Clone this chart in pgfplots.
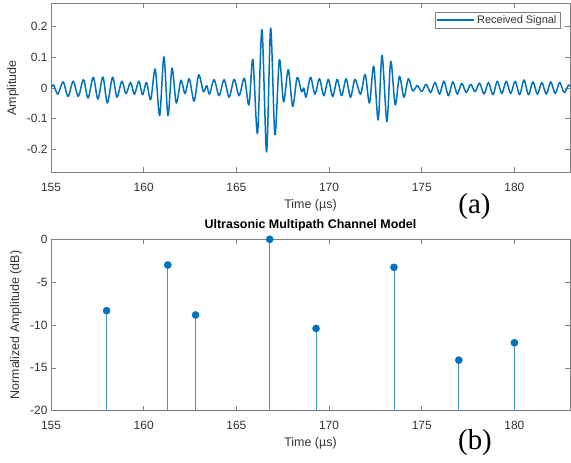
\documentclass[border=0pt]{standalone}
\usepackage{fontspec}
\setmainfont{Liberation Sans}
\newfontfamily\serifface{Liberation Serif}
\usepackage{pgfplots}
\pgfplotsset{compat=1.18}

\definecolor{mblue}{rgb}{0,0.447,0.741}
\definecolor{axgray}{gray}{0.5}
\definecolor{txtgray}{gray}{0.2}

\pgfplotsset{
  mstyle/.style={
    scale only axis, width=519bp,
    xmin=155, xmax=183, xtick={155,160,...,180},
    tick align=inside, major tick length=5bp,
    axis line style={axgray, line width=0.5pt},
    tick style={axgray, line width=0.5pt},
    /pgf/number format/assume math mode=true,
    scaled ticks=false,
    every tick label/.append style={font=\fontsize{12}{14}\selectfont, text=txtgray},
    xticklabel style={anchor=center, yshift=-14.5bp},
    label style={font=\fontsize{12.5}{15}\selectfont, text=txtgray},
    xlabel style={at={(axis description cs:0.5,0)}, anchor=center, yshift=-32.5bp},
    xlabel={Time (µs)},
  }
}

\begin{document}
\begin{tikzpicture}[x=1bp, y=1bp]
\useasboundingbox (0,0) rectangle (571,463);

% (a) received signal
\begin{axis}[mstyle,
  at={(51bp,290.5bp)}, anchor=south west, height=169bp,
  ymin=-0.275, ymax=0.275, ytick={-0.2,-0.1,0,0.1,0.2},
  ylabel={Amplitude},
  ylabel style={at={(axis description cs:-0.0732,0.5)}, anchor=center},
  legend style={at={(rel axis cs:0.981,0.951)}, anchor=north east,
    draw=axgray, line width=0.5pt, inner sep=1.5bp,
    font=\fontsize{11}{13}\selectfont, text=txtgray},
  legend image code/.code={\draw[#1] (0bp,0bp) -- (37bp,0bp);},
]
\addplot[mblue, line width=1.5pt, smooth, line join=round] coordinates {
(155.00,0.000) (155.14,0.010) (155.37,-0.020) (155.65,0.020) (155.92,-0.027)
(156.20,0.022) (156.47,-0.027) (156.75,0.027) (157.00,-0.033) (157.28,0.035)
(157.53,-0.036) (157.80,0.036) (158.04,-0.049) (158.32,0.035) (158.56,-0.030)
(158.82,0.022) (159.05,-0.018) (159.29,0.018) (159.50,-0.020) (159.74,0.022)
(159.94,-0.022) (160.15,0.018) (160.38,-0.038) (160.62,0.062) (160.86,-0.090)
(161.09,0.101) (161.31,-0.090) (161.53,0.065) (161.76,-0.049) (162.01,0.025)
(162.23,-0.018) (162.46,0.030) (162.72,-0.043) (162.97,0.043) (163.22,-0.012)
(163.40,0.008) (163.55,-0.020) (163.80,0.027) (164.07,-0.025) (164.34,0.027)
(164.61,-0.030) (164.88,0.028) (165.15,-0.025) (165.43,0.032) (165.68,-0.055)
(165.89,0.093) (166.14,-0.148) (166.38,0.190) (166.63,-0.208) (166.85,0.195)
(167.08,-0.152) (167.32,0.092) (167.55,-0.045) (167.80,0.060) (168.04,-0.060)
(168.28,0.034) (168.52,-0.012) (168.64,0.000) (168.76,-0.030) (169.00,0.035)
(169.24,-0.020) (169.48,0.030) (169.72,-0.025) (169.96,0.028) (170.20,-0.028)
(170.44,0.028) (170.68,-0.025) (170.92,0.030) (171.16,-0.030) (171.40,0.028)
(171.70,-0.020) (171.95,0.044) (172.18,-0.049) (172.41,0.071) (172.65,-0.104)
(172.86,0.106) (173.12,-0.109) (173.33,0.087) (173.57,-0.055) (173.80,0.038)
(174.04,-0.030) (174.28,0.030) (174.52,-0.010) (174.76,0.008) (175.00,-0.012)
(175.24,0.012) (175.48,-0.015) (175.72,0.018) (175.96,-0.020) (176.20,0.022)
(176.44,-0.025) (176.68,0.020) (176.92,-0.020) (177.16,0.015) (177.40,-0.015)
(177.64,0.012) (177.88,-0.012) (178.12,0.016) (178.36,-0.020) (178.60,0.018)
(178.84,-0.022) (179.08,0.022) (179.32,-0.018) (179.56,0.022) (179.80,-0.018)
(180.04,0.022) (180.28,-0.022) (180.52,0.026) (180.76,-0.022) (181.00,0.020)
(181.24,-0.020) (181.48,0.018) (181.72,-0.020) (181.96,0.020) (182.20,-0.018)
(182.44,0.018) (182.68,-0.015) (182.92,0.010) (183.00,0.005)
};
\addlegendentry{Received Signal}
\end{axis}

% (b) channel model
\begin{axis}[mstyle,
  at={(51bp,52.3bp)}, anchor=south west, height=171.4bp,
  ymin=-20, ymax=0, ytick={-20,-15,...,0},
  clip=false,
  ylabel={Normalized Amplitude (dB)},
  ylabel style={at={(axis description cs:-0.0674,0.5)}, anchor=center},
  title={Ultrasonic Multipath Channel Model},
  title style={at={(axis description cs:0.5,1)}, anchor=base, yshift=4.5bp,
    font=\bfseries\fontsize{12.5}{15}\selectfont, text=black},
]
\addplot[mblue, only marks, mark=*, mark size=3.6pt,
  mark options={fill=mblue, draw=mblue},
  error bars/.cd, y dir=minus, y explicit, error mark=none,
  error bar style={mblue!75!white, line width=0.7pt}] coordinates {
(158.0,-8.33) -= (0,11.67)
(161.3,-3.00) -= (0,17.00)
(162.8,-8.83) -= (0,11.17)
(166.8,0.00) -= (0,20.00)
(169.3,-10.40) -= (0,9.60)
(173.5,-3.27) -= (0,16.73)
(177.0,-14.10) -= (0,5.90)
(180.0,-12.07) -= (0,7.93)
};
\end{axis}

\node[font=\serifface\fontsize{29}{31}\selectfont] at (474.5,256.5) {(a)};
\node[font=\serifface\fontsize{29}{31}\selectfont] at (475,20) {(b)};
\end{tikzpicture}
\end{document}
